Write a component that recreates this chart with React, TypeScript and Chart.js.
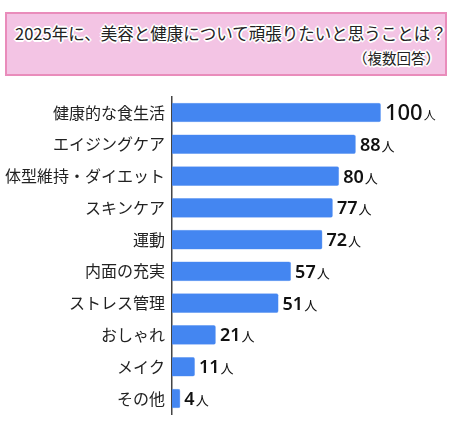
import { useEffect, useRef } from 'react';
import Chart from 'chart.js/auto';

const categories = [
  '健康的な食生活',
  'エイジングケア',
  '体型維持・ダイエット',
  'スキンケア',
  '運動',
  '内面の充実',
  'ストレス管理',
  'おしゃれ',
  'メイク',
  'その他',
];
const counts = [100, 88, 80, 77, 72, 57, 51, 21, 11, 4];
const unit = '人';

const titleText = '2025年に、美容と健康について頑張りたいと思うことは？';
const subText = '（複数回答）';

const JP = '"Noto Sans CJK JP", "Noto Sans", sans-serif';
const halo = '0 0 2px #fff, 1px 1px 0 #fff, -1px -1px 0 #fff, 1px -1px 0 #fff, -1px 1px 0 #fff, 0 2px 0 #fff, 2px 0 0 #fff, 0 -2px 0 #fff, -2px 0 0 #fff';

const valueLabels = {
  id: 'valueLabels',
  afterDatasetsDraw(chart: any) {
    const ctx = chart.ctx;
    const meta = chart.getDatasetMeta(0);
    ctx.save();
    meta.data.forEach((bar: any, i: number) => {
      const big = i === 0;
      const numSize = big ? 22 : 18;
      const unitSize = big ? 12 : 13;
      const x = bar.x + 4;
      const baseline = bar.y + numSize * 0.36;
      ctx.fillStyle = '#111';
      ctx.textAlign = 'left';
      ctx.textBaseline = 'alphabetic';
      ctx.font = `${big ? 500 : 600} ${numSize}px "Noto Sans", ${JP}`;
      const txt = String(counts[i]);
      ctx.fillText(txt, x, baseline);
      const w = ctx.measureText(txt).width;
      ctx.font = `${unitSize}px ${JP}`;
      ctx.fillText(unit, x + w + 1, baseline);
    });
    ctx.restore();
  },
};

function BarChart() {
  const canvasRef = useRef<HTMLCanvasElement>(null);
  const chartRef = useRef<Chart | null>(null);

  useEffect(() => {
    if (!canvasRef.current) return;
    if (chartRef.current) chartRef.current.destroy();
    const ctx = canvasRef.current.getContext('2d');
    if (!ctx) return;

    chartRef.current = new Chart(ctx, {
      type: 'bar',
      data: {
        labels: categories,
        datasets: [{
          data: counts,
          backgroundColor: '#4486F1',
          borderColor: '#6FA0F2',
          borderWidth: 0.5,
          borderRadius: 2,
          borderSkipped: 'start',
          barPercentage: 0.62,
          categoryPercentage: 1,
        }],
      },
      options: {
        indexAxis: 'y',
        animation: false,
        responsive: true,
        maintainAspectRatio: false,
        layout: { padding: { top: 7, bottom: 8, left: 0, right: 0 } },
        plugins: {
          legend: { display: false },
          tooltip: { enabled: false },
        },
        scales: {
          x: {
            display: false,
            min: 0,
            max: 134,
          },
          y: {
            grid: { display: false, drawTicks: false },
            border: { display: true, color: '#444', width: 1.5 },
            ticks: {
              color: '#222',
              padding: 7,
              font: { family: JP, size: 16 },
            },
            afterFit(scale: any) {
              scale.width = 172;
            },
          },
        },
      },
      plugins: [valueLabels],
    });

    return () => {
      if (chartRef.current) {
        chartRef.current.destroy();
        chartRef.current = null;
      }
    };
  }, []);

  return (
    <div style={{ position: 'absolute', left: 0, top: 80, width: 452, height: 351 }}>
      <canvas ref={canvasRef}></canvas>
    </div>
  );
}

export default function App() {
  return (
    <div style={{ position: 'absolute', left: 0, top: 0, width: 452, height: 431, background: '#fff', fontFamily: JP }}>
      <div
        style={{
          position: 'absolute',
          left: 5,
          top: 12,
          width: 438,
          height: 60,
          background: '#F3C4E4',
          border: '2px solid #E98CBB',
          color: '#222',
          textShadow: halo,
        }}
      >
        <div style={{ position: 'absolute', left: 8, top: 9, fontSize: 16.5, lineHeight: '20px', whiteSpace: 'nowrap' }}>
          {titleText}
        </div>
        <div style={{ position: 'absolute', right: 5, top: 35, fontSize: 14.5, lineHeight: '18px', whiteSpace: 'nowrap' }}>
          {subText}
        </div>
      </div>
      <BarChart />
    </div>
  );
}
